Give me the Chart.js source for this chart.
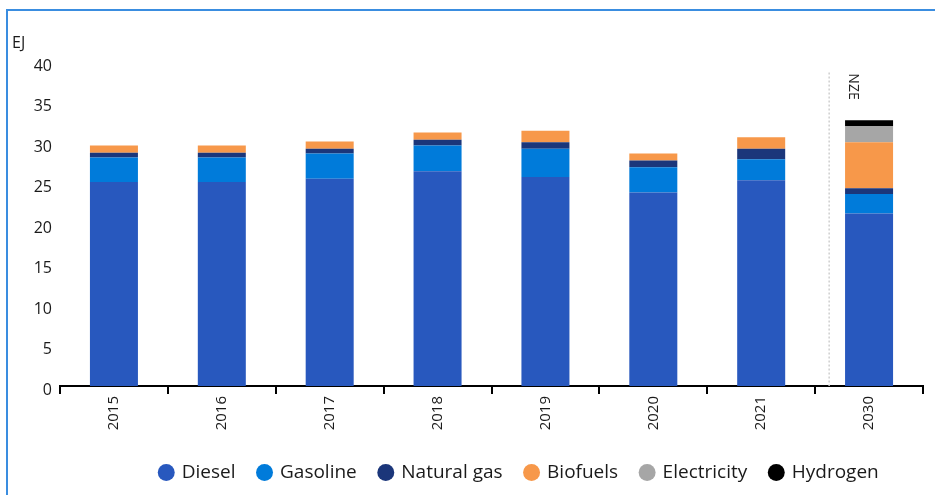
<!DOCTYPE html>
<html>
<head>
<meta charset="utf-8">
<script src="https://cdn.jsdelivr.net/npm/chart.js@4.4.1/dist/chart.umd.min.js"></script>
<style>
  body { margin: 0; background: #fff; }
  #wrap { position: relative; width: 935px; height: 495px; overflow: hidden; }
  #frameTop { position: absolute; left: 6px; top: 9px; width: 929px; height: 2px; background: #3a8de0; }
  #frameLeft { position: absolute; left: 6px; top: 9px; width: 2px; height: 486px; background: #3a8de0; }
  canvas { position: absolute; left: 0; top: 0; }
</style>
</head>
<body>
<div id="wrap">
  <div id="frameTop"></div>
  <div id="frameLeft"></div>
  <canvas id="myChart" width="935" height="495"></canvas>
</div>
<script>
// categories
const years = ['2015', '2016', '2017', '2018', '2019', '2020', '2021', '2030'];

// series values, EJ
const diesel      = [25.2, 25.2, 25.6, 26.5, 25.8, 23.9, 25.4, 21.3];
const gasoline    = [3.0, 3.0, 3.1, 3.2, 3.5, 3.1, 2.6, 2.4];
const naturalGas  = [0.6, 0.6, 0.6, 0.7, 0.8, 0.85, 1.3, 0.7];
const biofuels    = [0.9, 0.9, 0.9, 0.9, 1.4, 0.85, 1.4, 5.7];
const electricity = [0, 0, 0, 0, 0, 0, 0, 2.0];
const hydrogen    = [0, 0, 0, 0, 0, 0, 0, 0.7];

const yTicks = [0, 5, 10, 15, 20, 25, 30, 35, 40];
const unitLabel = 'EJ';
const scenarioLabel = 'NZE';

const seriesNames = ['Diesel', 'Gasoline', 'Natural gas', 'Biofuels', 'Electricity', 'Hydrogen'];
const seriesData = [diesel, gasoline, naturalGas, biofuels, electricity, hydrogen];
const seriesColors = ['#2858be', '#007bda', '#1b367a', '#f7984a', '#a6a6a6', '#000000'];

const fontFamily = "'Open Sans', 'DejaVu Sans', sans-serif";

// EJ unit + NZE separator
const extrasPlugin = {
    id: 'extras',
    afterLayout(chart) {
        // legend in the reference sits right of centre
        chart.legend.left += 58;
        chart.legend.right += 58;
    },
    afterDatasetsDraw(chart) {
        const c = chart.ctx;
        const x = chart.scales.x;
        const y = chart.scales.y;
        c.save();
        c.fillStyle = '#1a1a1a';
        c.font = '16px ' + fontFamily;
        c.textAlign = 'left';
        c.textBaseline = 'middle';
        c.fillText(unitLabel, 12, 43);

        const lx = x.getPixelForValue(6.63);
        c.strokeStyle = '#cfcfcf';
        c.lineWidth = 1.5;
        c.setLineDash([2, 2]);
        c.beginPath();
        c.moveTo(lx, y.getPixelForValue(38.7));
        c.lineTo(lx, y.getPixelForValue(0));
        c.stroke();
        c.setLineDash([]);

        c.translate(x.getPixelForValue(7) - 16, y.getPixelForValue(38.6));
        c.rotate(Math.PI / 2);
        c.font = '14px ' + fontFamily;
        c.fillStyle = '#222';
        c.fillText(scenarioLabel, 0, 0);
        c.restore();
    }
};

const ctx = document.getElementById('myChart').getContext('2d');
const barChart = new Chart(ctx, {
    type: 'bar',
    data: {
        labels: years,
        datasets: seriesNames.map((name, i) => ({
            label: name,
            data: seriesData[i],
            backgroundColor: seriesColors[i],
            borderWidth: 0,
            barPercentage: 1,
            categoryPercentage: 0.445
        }))
    },
    options: {
        responsive: false,
        animation: false,
        layout: {
            padding: { left: 0, right: 12, top: 62, bottom: 3 }
        },
        scales: {
            x: {
                stacked: true,
                grid: {
                    display: true,
                    drawOnChartArea: false,
                    drawTicks: true,
                    tickLength: 8,
                    color: '#000',
                    lineWidth: 2
                },
                border: { display: true, color: '#000', width: 2 },
                ticks: {
                    minRotation: 90,
                    maxRotation: 90,
                    padding: 2,
                    color: '#1a1a1a',
                    font: { family: fontFamily, size: 15 }
                },
                afterFit(scale) { scale.height = 54; }
            },
            y: {
                stacked: true,
                min: 0,
                max: 40,
                afterBuildTicks(scale) { scale.ticks = yTicks.map(v => ({ value: v })); },
                grid: { display: false, drawTicks: false },
                border: { display: false },
                ticks: {
                    padding: 8,
                    labelOffset: 4,
                    color: '#1a1a1a',
                    font: { family: fontFamily, size: 16 }
                },
                afterFit(scale) { scale.width = 60; }
            }
        },
        plugins: {
            legend: {
                position: 'bottom',
                labels: {
                    usePointStyle: true,
                    pointStyle: 'circle',
                    boxWidth: 12,
                    boxHeight: 12,
                    padding: 23,
                    color: '#1a1a1a',
                    font: { family: fontFamily, size: 19 }
                }
            },
            tooltip: { enabled: false }
        }
    },
    plugins: [extrasPlugin]
});
</script>
</body>
</html>
